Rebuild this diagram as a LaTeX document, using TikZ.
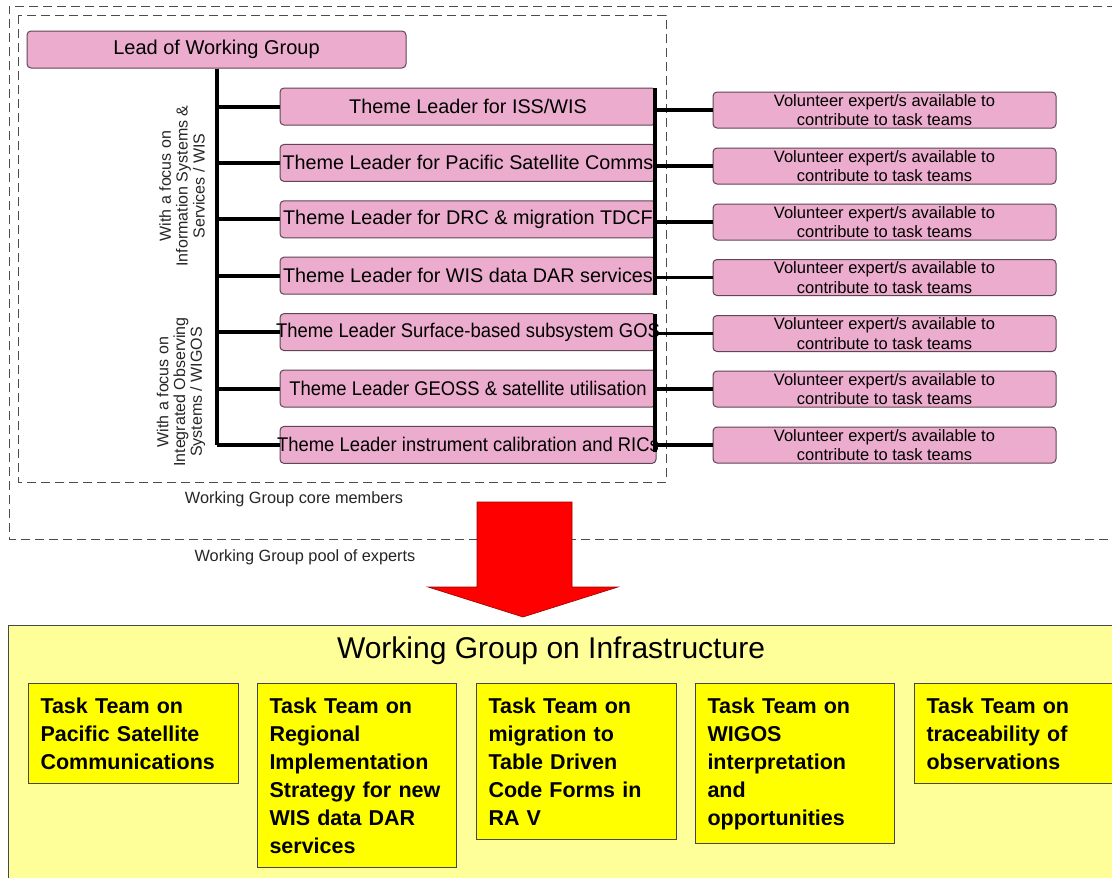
\documentclass[tikz,border=0pt]{standalone}
\usepackage{fontspec}
\setmainfont{Liberation Sans}
\definecolor{pinkfill}{RGB}{236,172,206}
\definecolor{pinkline}{RGB}{95,70,85}
\definecolor{paleyellow}{RGB}{255,255,153}
\definecolor{brightyellow}{RGB}{255,255,0}
\definecolor{boxline}{RGB}{70,70,70}
\definecolor{arrowred}{RGB}{255,0,0}
\newcommand{\zw}[1]{\makebox[0pt]{#1}}
\newcommand{\zwn}[1]{\makebox[0pt]{\scalebox{0.93}[1]{#1}}}
\tikzset{
  pinkbox/.style={draw=pinkline, fill=pinkfill, rounded corners=4pt, line width=1pt, inner sep=0pt, align=center},
  leadbox/.style={pinkbox, minimum width=379pt, minimum height=37pt, font=\fontsize{20}{22}\selectfont},
  themebox/.style={pinkbox, minimum width=376pt, minimum height=37pt, font=\fontsize{19.8}{22}\selectfont},
  volbox/.style={pinkbox, minimum width=343pt, minimum height=36pt, font=\fontsize{16.5}{19.5}\selectfont},
  conn/.style={line width=4pt, black},
  dashedframe/.style={draw=black!70, line width=0.8pt, dash pattern=on 9pt off 5pt},
  focuslabel/.style={rotate=90, align=center, font=\fontsize{16}{16.8}\selectfont, text=black!85},
  framelabel/.style={font=\fontsize{16.3}{18}\selectfont, text=black!85},
  taskbox/.style={draw=boxline, fill=brightyellow, line width=1pt, anchor=north west, align=left,
    inner xsep=12pt, inner ysep=14pt, font=\fontsize{21.5}{28}\selectfont\bfseries},
}
\begin{document}
\begin{tikzpicture}[x=1pt,y=-1pt]
\useasboundingbox (0,0) rectangle (1112,878);
\fill[white] (0,0) rectangle (1112,878);

% frames
\draw[dashedframe] (1116,6) -- (9,6) -- (9,539) -- (1116,539);
\draw[dashedframe] (18,15) rectangle (666,482);
\node[framelabel] (corelbl) at (294,499) {Working Group core members};
\node[framelabel] (poollbl) at (305,557) {Working Group pool of experts};

% lead
\node[leadbox] (lead) at (216.5,49.5) {Lead of Working Group};

% theme leaders
\node[themebox] (th1) at (468,106.5) {\zw{Theme Leader for ISS/WIS}};
\node[themebox] (th2) at (468,162.9) {\zw{Theme Leader for Pacific Satellite Comms}};
\node[themebox] (th3) at (468,219.3) {\zw{Theme Leader for DRC \& migration TDCF}};
\node[themebox] (th4) at (468,275.7) {\zw{Theme Leader for WIS data DAR services}};
\node[themebox] (th5) at (468,332.1) {\zwn{Theme Leader Surface-based subsystem GOS}};
\node[themebox] (th6) at (468,388.5) {\zwn{Theme Leader GEOSS \& satellite utilisation}};
\node[themebox] (th7) at (468,444.9) {\zwn{Theme Leader instrument calibration and RICs}};

% volunteers
\foreach \i/\y in {1/110,2/166,3/222,4/277.5,5/333.5,6/389,7/445}{
  \node[volbox] (vol\i) at (884.5,\y) {Volunteer expert/s available to\\contribute to task teams};
}

% focus labels
\node[focuslabel] (focus1) at (182,186) {With a focus on\\Information Systems \&\\Services / WIS};
\node[focuslabel] (focus2) at (181,392) {With a focus on\\Integrated Observing\\Systems / WIGOS};

% trunk and branches
\draw[conn] (lead.south) -- (lead.south |- th7.west);
\foreach \i in {1,...,7}{
  \draw[conn] (lead.south |- th\i.west) -- (th\i.west);
}

% right buses
\coordinate (bus1top) at (655,88);
\coordinate (bus1bot) at (655,295);
\coordinate (bus2top) at (655,314);
\coordinate (bus2bot) at (655,452);
\draw[conn] (bus1top) -- (bus1bot);
\draw[conn] (bus2top) -- (bus2bot);
\foreach \i in {1,...,4}{
  \draw[line width=3.5pt] (bus1top |- vol\i.west) -- (vol\i.west);
}
\foreach \i in {5,...,7}{
  \draw[line width=3.5pt] (bus2top |- vol\i.west) -- (vol\i.west);
}

% big arrow
\draw[draw=red!60!black, line width=0.6pt, fill=arrowred]
  (477,502) -- (572,502) -- (572,587) -- (618,587) -- (523,617) -- (428,587) -- (477,587) -- cycle;

% working group on infrastructure
\node[draw=boxline, fill=paleyellow, line width=1pt, anchor=north west, minimum width=1110pt, minimum height=260pt, inner sep=0pt] (wgi) at (8,625) {};
\node[font=\fontsize{30}{32}\selectfont] (wgititle) at (551,651) {Working Group on Infrastructure};

\node[taskbox, minimum width=210pt, minimum height=97pt, text width=186pt] (tt1) at (28,683) {Task Team on\\Pacific Satellite\\Communications};
\node[taskbox, minimum width=199pt, minimum height=181pt, text width=175pt] (tt2) at (257,683) {Task Team on\\Regional\\Implementation\\Strategy for new\\WIS data DAR\\services};
\node[taskbox, minimum width=200pt, minimum height=154pt, text width=176pt] (tt3) at (476,683) {Task Team on\\migration to\\Table Driven\\Code Forms in\\RA V};
\node[taskbox, minimum width=199pt, minimum height=154pt, text width=175pt] (tt4) at (695,683) {Task Team on\\WIGOS\\interpretation\\and\\opportunities};
\node[taskbox, minimum width=205pt, minimum height=97pt, text width=181pt] (tt5) at (914,683) {Task Team on\\traceability of\\observations};
\end{tikzpicture}
\end{document}
